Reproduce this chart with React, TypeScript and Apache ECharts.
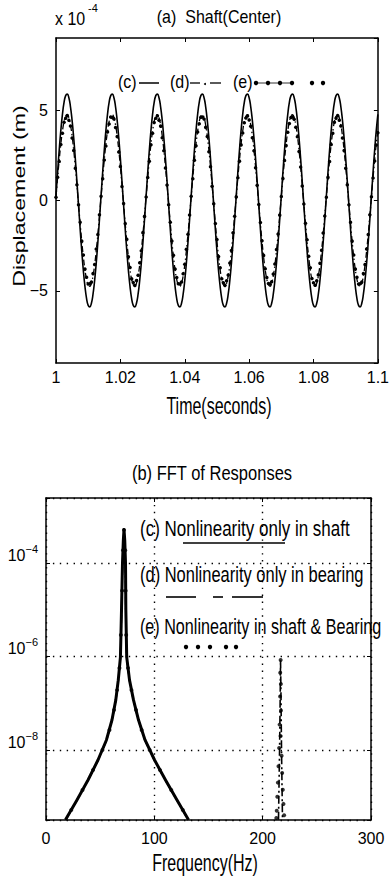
import React, { useEffect, useRef } from 'react';
import * as echarts from 'echarts';

// ---------- (a) time response, samples every 0.0005 s starting at t = 1 s (x 10^-4 m) ----------
const TIME_START = 1.0;
const TIME_STEP = 0.0005;

const SHAFT_C = [
  0.26, 1.57, 2.80, 3.88, 4.77, 5.43, 5.81, 5.89, 5.69, 5.19, 4.44, 3.47, 2.32, 1.05, -0.26, -1.57, -2.80, -3.88, -4.77, -5.43, -5.81, -5.89, -5.69, -5.19, -4.44, -3.47, -2.32, -1.05,
  0.26, 1.57, 2.80, 3.88, 4.77, 5.43, 5.81, 5.89, 5.69, 5.19, 4.44, 3.47, 2.32, 1.05, -0.26, -1.57, -2.80, -3.88, -4.77, -5.43, -5.81, -5.89, -5.69, -5.19, -4.44, -3.47, -2.32, -1.05,
  0.26, 1.57, 2.80, 3.88, 4.77, 5.43, 5.81, 5.89, 5.69, 5.19, 4.44, 3.47, 2.32, 1.05, -0.26, -1.57, -2.80, -3.88, -4.77, -5.43, -5.81, -5.89, -5.69, -5.19, -4.44, -3.47, -2.32, -1.05,
  0.26, 1.57, 2.80, 3.88, 4.77, 5.43, 5.81, 5.89, 5.69, 5.19, 4.44, 3.47, 2.32, 1.05, -0.26, -1.57, -2.80, -3.88, -4.77, -5.43, -5.81, -5.89, -5.69, -5.19, -4.44, -3.47, -2.32, -1.05,
  0.26, 1.57, 2.80, 3.88, 4.77, 5.43, 5.81, 5.89, 5.69, 5.19, 4.44, 3.47, 2.32, 1.05, -0.26, -1.57, -2.80, -3.88, -4.77, -5.43, -5.81, -5.89, -5.69, -5.19, -4.44, -3.47, -2.32, -1.05,
  0.26, 1.57, 2.80, 3.88, 4.77, 5.43, 5.81, 5.89, 5.69, 5.19, 4.44, 3.47, 2.32, 1.05, -0.26, -1.57, -2.80, -3.88, -4.77, -5.43, -5.81, -5.89, -5.69, -5.19, -4.44, -3.47, -2.32, -1.05,
  0.26, 1.57, 2.80, 3.88, 4.77, 5.43, 5.81, 5.89, 5.69, 5.19, 4.44, 3.47, 2.32, 1.05, -0.26, -1.57, -2.80, -3.88, -4.77, -5.43, -5.81, -5.89, -5.69, -5.19, -4.44, -3.47, -2.32, -1.05,
  0.26, 1.57, 2.80, 3.88, 4.77,
];

const SHAFT_D = [
  0.21, 1.26, 2.25, 3.13, 3.84, 4.37, 4.67, 4.75, 4.58, 4.18, 3.58, 2.79, 1.87, 0.85, -0.21, -1.26, -2.25, -3.13, -3.84, -4.37, -4.67, -4.75, -4.58, -4.18, -3.58, -2.79, -1.87, -0.85,
  0.21, 1.26, 2.25, 3.13, 3.84, 4.37, 4.67, 4.75, 4.58, 4.18, 3.58, 2.79, 1.87, 0.85, -0.21, -1.26, -2.25, -3.13, -3.84, -4.37, -4.67, -4.75, -4.58, -4.18, -3.58, -2.79, -1.87, -0.85,
  0.21, 1.26, 2.25, 3.13, 3.84, 4.37, 4.67, 4.75, 4.58, 4.18, 3.58, 2.79, 1.87, 0.85, -0.21, -1.26, -2.25, -3.13, -3.84, -4.37, -4.67, -4.75, -4.58, -4.18, -3.58, -2.79, -1.87, -0.85,
  0.21, 1.26, 2.25, 3.13, 3.84, 4.37, 4.67, 4.75, 4.58, 4.18, 3.58, 2.79, 1.87, 0.85, -0.21, -1.26, -2.25, -3.13, -3.84, -4.37, -4.67, -4.75, -4.58, -4.18, -3.58, -2.79, -1.87, -0.85,
  0.21, 1.26, 2.25, 3.13, 3.84, 4.37, 4.67, 4.75, 4.58, 4.18, 3.58, 2.79, 1.87, 0.85, -0.21, -1.26, -2.25, -3.13, -3.84, -4.37, -4.67, -4.75, -4.58, -4.18, -3.58, -2.79, -1.87, -0.85,
  0.21, 1.26, 2.25, 3.13, 3.84, 4.37, 4.67, 4.75, 4.58, 4.18, 3.58, 2.79, 1.87, 0.85, -0.21, -1.26, -2.25, -3.13, -3.84, -4.37, -4.67, -4.75, -4.58, -4.18, -3.58, -2.79, -1.87, -0.85,
  0.21, 1.26, 2.25, 3.13, 3.84, 4.37, 4.67, 4.75, 4.58, 4.18, 3.58, 2.79, 1.87, 0.85, -0.21, -1.26, -2.25, -3.13, -3.84, -4.37, -4.67, -4.75, -4.58, -4.18, -3.58, -2.79, -1.87, -0.85,
  0.21, 1.26, 2.25, 3.13, 3.84,
];

const SHAFT_E = [
  0.18, 1.29, 2.16, 3.10, 3.72, 4.33, 4.55, 4.70, 4.44, 4.13, 3.46, 2.77, 1.79, 0.87, -0.24, -1.20, -2.25, -3.02, -3.80, -4.25, -4.62, -4.61, -4.52, -4.05, -3.54, -2.69, -1.88, -0.79,
  0.24, 1.20, 2.24, 3.02, 3.80, 4.24, 4.62, 4.60, 4.52, 4.04, 3.55, 2.69, 1.88, 0.78, -0.17, -1.28, -2.15, -3.11, -3.71, -4.34, -4.54, -4.71, -4.43, -4.14, -3.45, -2.78, -1.78, -0.88,
  0.19, 1.27, 2.17, 3.09, 3.73, 4.32, 4.56, 4.69, 4.45, 4.12, 3.47, 2.76, 1.80, 0.86, -0.23, -1.21, -2.24, -3.03, -3.79, -4.26, -4.61, -4.62, -4.51, -4.06, -3.53, -2.70, -1.87, -0.80,
  0.23, 1.21, 2.23, 3.03, 3.79, 4.25, 4.61, 4.62, 4.51, 4.05, 3.54, 2.70, 1.87, 0.79, -0.18, -1.27, -2.16, -3.10, -3.72, -4.33, -4.55, -4.70, -4.44, -4.13, -3.46, -2.77, -1.79, -0.87,
  0.20, 1.26, 2.18, 3.08, 3.74, 4.31, 4.57, 4.68, 4.46, 4.11, 3.48, 2.75, 1.81, 0.85, -0.22, -1.22, -2.23, -3.04, -3.78, -4.27, -4.60, -4.63, -4.50, -4.07, -3.52, -2.71, -1.86, -0.81,
  0.22, 1.22, 2.22, 3.04, 3.78, 4.26, 4.60, 4.63, 4.50, 4.06, 3.53, 2.71, 1.86, 0.80, -0.19, -1.26, -2.17, -3.09, -3.73, -4.32, -4.56, -4.69, -4.45, -4.12, -3.47, -2.76, -1.80, -0.86,
  0.18, 1.28, 2.16, 3.10, 3.72, 4.33, 4.55, 4.70, 4.44, 4.13, 3.46, 2.77, 1.79, 0.87, -0.24, -1.20, -2.25, -3.02, -3.80, -4.25, -4.62, -4.61, -4.52, -4.05, -3.54, -2.69, -1.88, -0.79,
  0.21, 1.25, 2.19, 3.07, 3.75,
];

// ---------- (b) FFT magnitudes ----------
const FFT_FREQ_C = [18.0, 28.6, 38.8, 48.0, 55.8, 60.9, 64.4, 66.7, 68.7, 69.7, 70.6, 71.4, 72.0, 72.7, 73.4, 73.7, 74.5, 77.1, 80.8, 85.4, 91.4, 100.2, 110.3, 120.9, 131.5];
const FFT_MAG_C = [3.2e-10, 8.5e-10, 2.28e-9, 6.1e-9, 1.64e-8, 4.39e-8, 1.17e-7, 3.14e-7, 9.75e-7, 1.0e-5, 1.0e-4, 3.1e-4, 5.33e-4, 3.1e-4, 1.0e-4, 1.0e-5, 9.75e-7, 3.14e-7, 1.17e-7, 4.39e-8, 1.64e-8, 6.1e-9, 2.28e-9, 8.5e-10, 3.2e-10];

const FFT_FREQ_D = [18.3, 28.8, 39.0, 48.2, 56.0, 61.0, 64.5, 66.8, 68.8, 69.8, 70.7, 71.5, 72.0, 72.6, 73.3, 73.6, 74.4, 77.0, 80.6, 85.2, 91.2, 100.0, 110.1, 120.7, 131.3, 170, 214.6, 215.6, 216.2, 216.5, 216.9, 217.4, 218.3];
const FFT_MAG_D = [3.2e-10, 8.5e-10, 2.28e-9, 6.1e-9, 1.64e-8, 4.39e-8, 1.17e-7, 3.14e-7, 9.75e-7, 1.0e-5, 1.0e-4, 3.1e-4, 5.2e-4, 3.1e-4, 1.0e-4, 1.0e-5, 9.75e-7, 3.14e-7, 1.17e-7, 4.39e-8, 1.64e-8, 6.1e-9, 2.28e-9, 8.5e-10, 3.2e-10, null, 3.2e-10, 1.0e-8, 1.5e-7, 8.5e-7, 1.5e-7, 1.0e-8, 3.2e-10];

const FFT_FREQ_E = [23.3, 33.7, 43.4, 52.1, 58.6, 62.8, 65.6, 67.8, 69.1, 70.2, 71.1, 72.0, 73.1, 73.5, 74.0, 75.7, 78.9, 83.1, 88.3, 95.7, 105.2, 115.6, 126.3,
  216.6, 216.2, 216.8, 216.1, 216.9, 215.6, 216.5, 215.2, 217.5, 214.6, 218.0, 214.0, 218.6, 213.5, 219.2, 213.0, 219.8, 212.6];
const FFT_MAG_E = [5.2e-10, 1.39e-9, 3.73e-9, 1.0e-8, 2.68e-8, 7.2e-8, 1.92e-7, 5.7e-7, 2.9e-6, 2.6e-5, 1.9e-4, 5.2e-4, 1.9e-4, 2.6e-5, 2.9e-6, 5.7e-7, 1.92e-7, 7.2e-8, 2.68e-8, 1.0e-8, 3.73e-9, 1.39e-9, 5.2e-10,
  8.5e-7, 4.5e-7, 2.6e-7, 1.4e-7, 7.0e-8, 3.5e-8, 2.0e-8, 1.1e-8, 7.5e-9, 4.5e-9, 3.2e-9, 2.0e-9, 1.4e-9, 1.0e-9, 7.0e-10, 5.0e-10, 4.0e-10, 3.5e-10];

const FFT_Y_MIN = 3.1623e-10;
const FFT_Y_MAX = 2.512e-3;

const FONT = '"Liberation Sans", Arial, Helvetica, sans-serif';
const BLACK = '#000';

function txt(text: string, x: number, y: number, size: number, o: any = {}) {
  const align = o.align || 'center';
  return {
    type: 'text',
    x,
    y,
    scaleX: o.sx || 1,
    scaleY: o.sy || 1,
    rotation: o.rot || 0,
    silent: true,
    z: 100,
    style: {
      text,
      x: 0,
      y: 0,
      font: `${o.weight || 'normal'} ${size}px ${FONT}`,
      fill: BLACK,
      textAlign: align,
      textVerticalAlign: 'middle',
      align,
      verticalAlign: 'middle',
    },
  };
}
function seg(x1: number, y1: number, x2: number, y2: number, w = 1.5) {
  return { type: 'line', silent: true, z: 100, shape: { x1, y1, x2, y2 }, style: { stroke: BLACK, lineWidth: w } };
}
function dot(cx: number, cy: number, r = 2.2) {
  return { type: 'circle', silent: true, z: 100, shape: { cx, cy, r }, style: { fill: BLACK } };
}

export default function App() {
  const ref = useRef<HTMLDivElement>(null);
  useEffect(() => {
    if (!ref.current) return;
    const chart = echarts.init(ref.current, null, { renderer: 'svg' });

    const timeData = (vals: number[]) => vals.map((v, i) => [TIME_START + i * TIME_STEP, v]);
    const fftData = (f: number[], m: (number | null)[]) => f.map((x, i) => [x, m[i] === null ? '-' : m[i]]);

    const axisLine = { show: true, onZero: false, lineStyle: { color: BLACK, width: 1.5 } };
    const tick = { show: true, inside: true, length: 4, lineStyle: { color: BLACK, width: 1 } };
    const label = { color: BLACK, fontFamily: FONT, fontSize: 16 };
    const gridDot = { show: true, lineStyle: { color: BLACK, width: 1.4, type: [1.4, 5.5] } };

    const option: any = {
      animation: false,
      backgroundColor: '#fff',
      grid: [
        { left: 56, top: 38, width: 326, height: 325 },
        { left: 46, top: 498, width: 325, height: 322 },
      ],
      xAxis: [
        { gridIndex: 0, type: 'value', min: 1, max: 1.1, interval: 0.02, position: 'bottom', axisLine, axisTick: tick, splitLine: { show: false },
          axisLabel: { ...label, margin: 6 } },
        { gridIndex: 0, type: 'value', min: 1, max: 1.1, interval: 0.02, position: 'top', axisLine, axisTick: tick, splitLine: { show: false },
          axisLabel: { show: false } },
        { gridIndex: 1, type: 'value', min: 0, max: 300, interval: 100, position: 'bottom', axisLine, axisTick: tick, splitLine: gridDot,
          axisLabel: { ...label, margin: 10 } },
        { gridIndex: 1, type: 'value', min: 0, max: 300, interval: 100, position: 'top', axisLine, axisTick: tick, splitLine: { show: false },
          axisLabel: { show: false } },
      ],
      yAxis: [
        { gridIndex: 0, type: 'value', min: -9, max: 9, splitNumber: 3, position: 'left', axisLine, axisTick: tick, splitLine: { show: false },
          axisLabel: { ...label, margin: 8, showMinLabel: false, showMaxLabel: false,
            formatter: (v: number) => (Math.abs(v) > 8 ? '' : v < 0 ? '\u2212' + Math.abs(v) : String(v)) } },
        { gridIndex: 0, type: 'value', min: -9, max: 9, splitNumber: 3, position: 'right', axisLine, axisTick: tick, splitLine: { show: false },
          axisLabel: { show: false } },
        { gridIndex: 1, type: 'log', logBase: 100, min: FFT_Y_MIN, max: FFT_Y_MAX, position: 'left', axisLine, axisTick: tick, splitLine: gridDot,
          axisLabel: {
            color: BLACK, fontFamily: FONT, margin: 8, verticalAlign: 'bottom',
            formatter: (v: number) => {
              const e = Math.log10(v);
              const r = Math.round(e);
              if (Math.abs(e - r) > 0.02) return '';
              return '{b|10}{s|' + (r < 0 ? '\u2212' : '') + Math.abs(r) + '}';
            },
            rich: {
              b: { fontSize: 16, fontFamily: FONT, color: BLACK, lineHeight: 20, verticalAlign: 'bottom' },
              s: { fontSize: 11, fontFamily: FONT, color: BLACK, lineHeight: 20, verticalAlign: 'top' },
            },
          } },
        { gridIndex: 1, type: 'log', logBase: 100, min: FFT_Y_MIN, max: FFT_Y_MAX, position: 'right', axisLine, axisTick: tick, splitLine: { show: false },
          axisLabel: { show: false } },
      ],
      series: [
        { name: '(c)', type: 'line', xAxisIndex: 0, yAxisIndex: 0, data: timeData(SHAFT_C), smooth: true, showSymbol: false,
          lineStyle: { color: BLACK, width: 1.6 } },
        { name: '(d)', type: 'line', xAxisIndex: 0, yAxisIndex: 0, data: timeData(SHAFT_D), smooth: true, showSymbol: false,
          lineStyle: { color: BLACK, width: 1.3, type: [6, 3, 1.5, 3] } },
        { name: '(e)', type: 'line', xAxisIndex: 0, yAxisIndex: 0, data: timeData(SHAFT_E), smooth: true, showSymbol: true, showAllSymbol: true,
          symbol: 'circle', symbolSize: 3.5, itemStyle: { color: BLACK }, lineStyle: { opacity: 0 } },

        { name: 'FFT (c)', type: 'line', xAxisIndex: 2, yAxisIndex: 2, data: fftData(FFT_FREQ_C, FFT_MAG_C), showSymbol: false,
          lineStyle: { color: BLACK, width: 3, join: 'round' } },
        { name: 'FFT (d)', type: 'line', xAxisIndex: 2, yAxisIndex: 2, data: fftData(FFT_FREQ_D, FFT_MAG_D), showSymbol: false,
          lineStyle: { color: BLACK, width: 1.6, type: [8, 3, 2, 3] } },
        { name: 'FFT (e)', type: 'scatter', xAxisIndex: 2, yAxisIndex: 2, data: fftData(FFT_FREQ_E, FFT_MAG_E),
          symbol: 'circle', symbolSize: 4, itemStyle: { color: BLACK } },
      ],
      graphic: [
        // (a) titles
        txt('(a)  Shaft(Center)', 219, 17, 16, { sy: 1.15 }),
        txt('x 10', 55, 19, 16, { align: 'left', sy: 1.1 }),
        txt('-4', 88, 8, 11, { align: 'left' }),
        txt('Displacement (m)', 19, 196, 16, { rot: Math.PI / 2, sx: 1.45 }),
        txt('Time(seconds)', 219, 406, 16, { sy: 1.45 }),
        // (a) legend
        txt('(c)', 118, 82, 16, { align: 'left', sy: 1.15 }),
        seg(139, 83, 159, 83),
        txt('(d)', 170, 82, 16, { align: 'left', sy: 1.15 }),
        seg(190, 83, 200, 83, 1.3),
        dot(205, 84, 1),
        seg(210, 83, 221, 83, 1.3),
        txt('(e)', 233, 82, 16, { align: 'left', sy: 1.15 }),
        seg(256, 83, 292, 83, 0.8),
        dot(256, 83), dot(268, 83), dot(280, 83), dot(292, 83), dot(312, 83), dot(323, 83),
        // (b) titles
        txt('(b) FFT of Responses', 212, 473, 16.5, { sy: 1.2 }),
        txt('Frequency(Hz)', 205, 863, 16, { sy: 1.45 }),
        // (b) legend
        txt('(c) Nonlinearity only in shaft', 140, 528, 17, { align: 'left', sy: 1.35 }),
        seg(183, 543, 285, 543, 1.6),
        txt('(d) Nonlinearity only in bearing', 140, 574, 17, { align: 'left', sy: 1.35, sx: 0.97 }),
        seg(166, 597, 196, 597, 1.6),
        seg(213, 597, 223, 597, 1.6),
        seg(232, 597, 263, 597, 1.6),
        txt('(e) Nonlinearity in shaft & Bearing', 140, 626, 17, { align: 'left', sy: 1.35, sx: 0.95 }),
        dot(186, 647), dot(198, 647), dot(210, 647), dot(226, 647), dot(236, 647),
      ],
    };

    chart.setOption(option);
    return () => chart.dispose();
  }, []);

  return <div ref={ref} style={{ position: 'fixed', left: 0, top: 0, width: 392, height: 880, background: '#fff' }} />;
}
